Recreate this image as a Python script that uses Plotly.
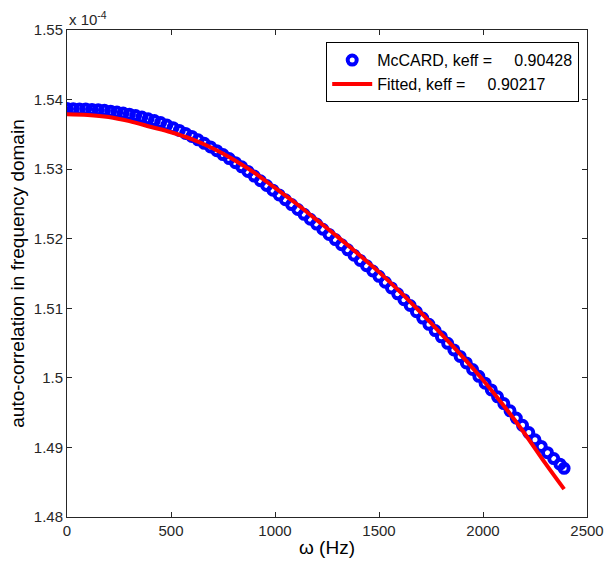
import plotly.graph_objects as go

## dados (auto-correlacao em unidades de 1e-4)
freq_mc = [0, 30, 60, 90, 120, 150, 180, 210, 240, 270, 300, 330, 360, 390, 420, 450,
           480, 510, 540, 570, 600, 630, 660, 690, 720, 750, 780, 810, 840, 870, 900,
           930, 960, 990, 1020, 1050, 1080, 1110, 1140, 1170, 1200, 1230, 1260, 1290,
           1320, 1350, 1380, 1410, 1440, 1470, 1500, 1530, 1560, 1590, 1620, 1650, 1680,
           1710, 1740, 1770, 1800, 1830, 1860, 1890, 1920, 1950, 1980, 2010, 2040, 2070,
           2100, 2130, 2160, 2190, 2220, 2250, 2280, 2310, 2340, 2370, 2390]
acor_mc = [1.53870, 1.53869, 1.53866, 1.53863, 1.53859, 1.53855, 1.53845, 1.53833, 1.53820,
           1.53806, 1.53790, 1.53770, 1.53748, 1.53724, 1.53698, 1.53670, 1.53634, 1.53596,
           1.53556, 1.53514, 1.53470, 1.53421, 1.53371, 1.53319, 1.53265, 1.53210, 1.53152,
           1.53093, 1.53033, 1.52967, 1.52900, 1.52833, 1.52765, 1.52697, 1.52629, 1.52560,
           1.52490, 1.52420, 1.52350, 1.52280, 1.52210, 1.52136, 1.52062, 1.51988, 1.51914,
           1.51840, 1.51764, 1.51688, 1.51612, 1.51536, 1.51460, 1.51376, 1.51292, 1.51208,
           1.51124, 1.51040, 1.50950, 1.50860, 1.50770, 1.50680, 1.50590, 1.50496, 1.50402,
           1.50308, 1.50214, 1.50120, 1.50022, 1.49924, 1.49826, 1.49728, 1.49630, 1.49526,
           1.49422, 1.49318, 1.49214, 1.49110, 1.49015, 1.48925, 1.48840, 1.48760, 1.48700]

freq_fit = [0, 100, 200, 300, 400, 500, 600, 700, 800, 900, 1000, 1100, 1200, 1300, 1400,
            1500, 1600, 1700, 1800, 1900, 2000, 2100, 2200, 2300, 2390]
acor_fit = [1.5379, 1.5378, 1.5375, 1.5369, 1.5361, 1.5353, 1.5343, 1.5330, 1.5314, 1.5295,
            1.5273, 1.5251, 1.5227, 1.5203, 1.5178, 1.5152, 1.5124, 1.5094, 1.5063, 1.5031,
            1.4997, 1.4960, 1.4920, 1.4877, 1.4840]

xticks = [0, 500, 1000, 1500, 2000, 2500]
yticks = [1.48, 1.49, 1.50, 1.51, 1.52, 1.53, 1.54, 1.55]
ytick_txt = ['1.48', '1.49', '1.5', '1.51', '1.52', '1.53', '1.54', '1.55']

nb = '\u00a0'
nome_mc = 'McCARD, keff =' + nb * 5 + '0.90428'
nome_fit = 'Fitted, keff =' + nb * 5 + '0.90217'

fonte = 'Liberation Sans, Arial'

fig = go.Figure()
fig.add_trace(go.Scatter(x=freq_mc, y=acor_mc, mode='markers', name=nome_mc,
                         marker=dict(symbol='circle-open', size=9, color='#0000ff',
                                     line=dict(width=4, color='#0000ff'))))
fig.add_trace(go.Scatter(x=freq_fit, y=acor_fit, mode='lines', name=nome_fit,
                         line=dict(color='#ff0000', width=4, shape='spline')))

eixo = dict(showline=True, linecolor='#262626', linewidth=1, mirror='ticks', ticks='inside',
            ticklen=5, tickcolor='#262626', showgrid=False, zeroline=False, automargin=False,
            tickfont=dict(family=fonte, size=15, color='#262626'))
fig.update_xaxes(eixo, range=[0, 2500], tickvals=xticks,
                 title=dict(text='ω (Hz)', font=dict(family=fonte, size=19, color='#000000'),
                            standoff=2))
fig.update_yaxes(eixo, range=[1.48, 1.55], tickvals=yticks, ticktext=ytick_txt,
                 title=dict(text='auto-correlation in frequency domain',
                            font=dict(family=fonte, size=19, color='#000000'),
                            standoff=4))
fig.add_annotation(text='x 10<sup>-4</sup>', xref='paper', yref='paper', x=0, y=1,
                   xanchor='left', yanchor='bottom', showarrow=False, yshift=0,
                   font=dict(family=fonte, size=15, color='#262626'))
fig.update_layout(width=604, height=563, margin=dict(l=67, r=17, t=30, b=46),
                  plot_bgcolor='white', paper_bgcolor='white',
                  font=dict(family=fonte),
                  legend=dict(x=0.985, y=0.975, xanchor='right', yanchor='top',
                              bgcolor='white', bordercolor='#000000', borderwidth=1,
                              font=dict(family=fonte, size=16, color='#000000'),
                              itemwidth=40, tracegroupgap=0))
fig.write_html("out.html", config={'displayModeBar': False},
               post_script="document.body.style.margin='0';")
